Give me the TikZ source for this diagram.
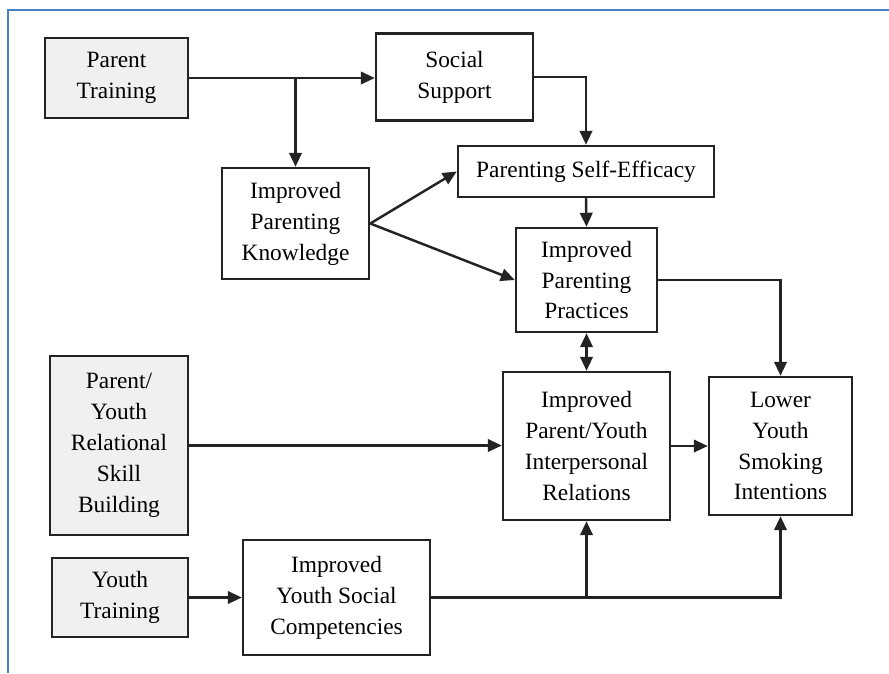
\documentclass[tikz,border=0pt]{standalone}
\usepackage{fontspec}
\setmainfont{Liberation Serif}
\usetikzlibrary{arrows.meta,calc}
\definecolor{progFill}{RGB}{240,240,240}
\definecolor{boxLine}{RGB}{35,35,35}
\definecolor{frameBlue}{RGB}{74,128,196}
\tikzset{
  outc/.style={rectangle, draw=boxLine, fill=white, line width=1.4pt, inner sep=0pt,
               align=center, font=\fontsize{13.3}{17.6}\selectfont},
  prog/.style={outc, fill=progFill},
  link/.style={-{Triangle[length=2.8mm,width=2.5mm]}, draw=boxLine, line width=1.4pt},
}
\begin{document}
\begin{tikzpicture}[x=0.2mm,y=-0.2mm]
  \useasboundingbox (0,0) rectangle (889,673);
  \draw[frameBlue, line width=0.6pt] (8,673) -- (8,10) -- (889,10);

  % programme components
  \node[prog, minimum width=28.6mm, minimum height=16mm] (train) at (116.5,78) {Parent\\Training};
  \node[prog, minimum width=27.6mm, minimum height=35.8mm] (relskill) at (119,445.5) {Parent/\\Youth\\Relational\\Skill\\Building};
  \node[prog, minimum width=27.2mm, minimum height=15.8mm] (youth) at (120,597.5) {Youth\\Training};

  % mediators and outcome
  \node[outc, minimum width=31.4mm, minimum height=17.4mm] (support) at (454.5,77) {Social\\Support};
  \node[outc, minimum width=29.4mm, minimum height=22.2mm] (know) at (295.5,223.5) {Improved\\Parenting\\Knowledge};
  \node[outc, minimum width=51.2mm, minimum height=10.2mm] (eff) at (586,171.5) {Parenting Self-Efficacy};
  \node[outc, minimum width=28.2mm, minimum height=20.8mm] (prac) at (586.5,280) {Improved\\Parenting\\Practices};
  \node[outc, minimum width=33.4mm, minimum height=29.6mm] (interp) at (586.5,446) {Improved\\Parent/Youth\\Interpersonal\\Relations};
  \node[outc, minimum width=37.4mm, minimum height=23mm] (compet) at (336.5,597.5) {Improved\\Youth Social\\Competencies};
  \node[outc, minimum width=28.6mm, minimum height=27.6mm] (lower) at (780.5,446) {Lower\\Youth\\Smoking\\Intentions};

  \draw[link] (train.east) -- (train.east -| support.west);
  \draw[link] (know.north |- train.east) -- (know.north);
  \draw[link] (support.east) -| (eff.north);
  \draw[link] (know.east) -- (eff.west);
  \draw[link] (know.east) -- (prac.west);
  \draw[link] (eff.south) -- (prac.north);
  \draw[link] (prac.east) -| (lower.north);
  \draw[link, {Triangle[length=2.8mm,width=2.5mm]}-{Triangle[length=2.8mm,width=2.5mm]}] (prac.south) -- (interp.north);
  \draw[link] (relskill.east) -- (relskill.east -| interp.west);
  \draw[link] (interp.east) -- (interp.east -| lower.west);
  \draw[link] (youth.east) -- (compet.west);
  \draw[link] (compet.east) -| (lower.south);
  \draw[link] (interp.south |- compet.east) -- (interp.south);
\end{tikzpicture}
\end{document}
